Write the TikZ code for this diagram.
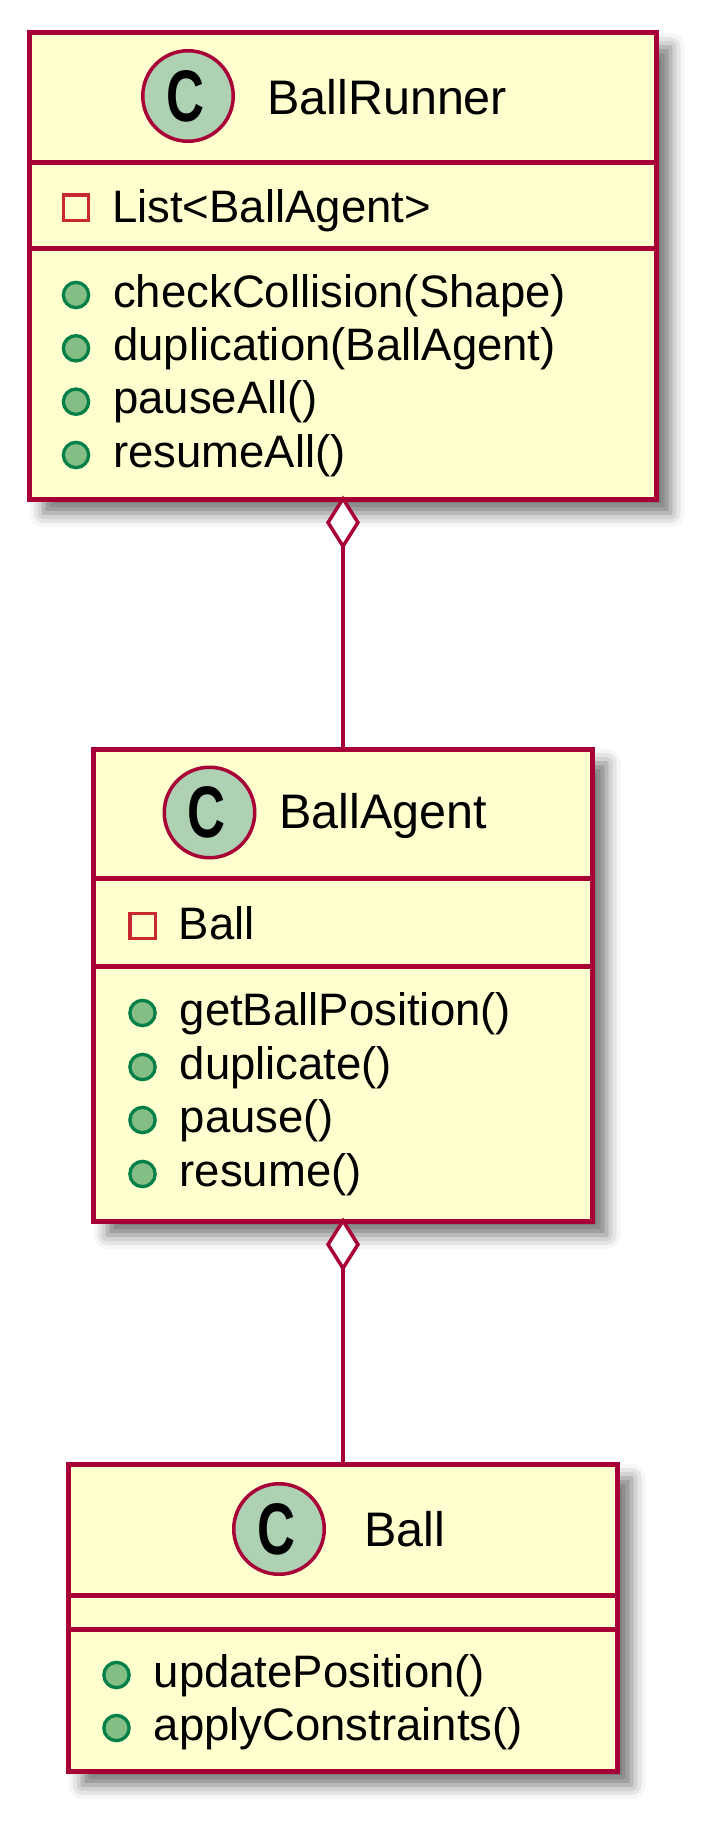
\documentclass[tikz,border=0pt]{standalone}
\usepackage{fontspec}
\setmainfont{Liberation Sans}
\usetikzlibrary{arrows.meta,shadows.blur}
\definecolor{umlborder}{HTML}{A80036}
\definecolor{umlfill}{HTML}{FEFECE}
\definecolor{umlcircle}{HTML}{ADD1B2}
\definecolor{privred}{HTML}{C82930}
\definecolor{pubfill}{HTML}{84BE84}
\definecolor{pubborder}{HTML}{038048}
\tikzset{
  classbox/.style={rectangle, draw=umlborder, line width=5pt, fill=umlfill, inner sep=0pt,
    blur shadow={shadow xshift=14pt, shadow yshift=-14pt, shadow blur radius=14pt, shadow opacity=55}},
  sepline/.style={draw=umlborder, line width=5pt},
  classicon/.style={circle, draw=umlborder, line width=3.5pt, fill=umlcircle, minimum size=90.5pt, inner sep=0pt},
  classletter/.style={inner sep=0pt, font=\fontsize{73}{80}\selectfont\bfseries},
  classname/.style={anchor=base west, inner sep=0pt, font=\fontsize{48.5}{58}\selectfont},
  member/.style={anchor=base west, inner sep=0pt, font=\fontsize{45.5}{54}\selectfont},
  privicon/.style={rectangle, draw=privred, line width=3.3pt, minimum size=25.3pt, inner sep=0pt},
  pubicon/.style={circle, draw=pubborder, fill=pubfill, line width=3.3pt, minimum size=25.3pt, inner sep=0pt},
  aggr/.style={draw=umlborder, line width=3.5pt, shorten <=-6pt,
    {Diamond[fill=white, length=54pt, width=34pt]}-},
}
\begin{document}
\begin{tikzpicture}[x=1pt, y=-1pt]
  \useasboundingbox (0,0) rectangle (713,1825);

  \node[classbox, minimum width=627pt, minimum height=466pt] (runner) at (343,266) {};
  \draw[sepline] (runner.west |- 0,162) -- (runner.east |- 0,162);
  \draw[sepline] (runner.west |- 0,248) -- (runner.east |- 0,248);
  \node[classicon] (runnericon) at (188,96) {};
  \node[classletter] (runnerc) at (185,96) {\scalebox{0.72}[1]{C}};
  \node[classname] (runnername) at (267,114) {BallRunner};
  \node[privicon] (runnerlisticon) at (76,207.5) {};
  \node[member] (runnerlist) at (112,222) {List<BallAgent>};
  \node[pubicon] (runnercheckicon) at (76,295) {};
  \node[member] (runnercheck) at (113,307) {checkCollision(Shape)};
  \node[pubicon] (runnerdupicon) at (76,348.3) {};
  \node[member] (runnerdup) at (113,360.3) {duplication(BallAgent)};
  \node[pubicon] (runnerpauseicon) at (76,401.7) {};
  \node[member] (runnerpause) at (113,413.7) {pauseAll()};
  \node[pubicon] (runnerresumeicon) at (76,455) {};
  \node[member] (runnerresume) at (113,467) {resumeAll()};

  \node[classbox, minimum width=499pt, minimum height=472pt] (agent) at (343,985) {};
  \draw[sepline] (agent.west |- 0,878) -- (agent.east |- 0,878);
  \draw[sepline] (agent.west |- 0,966) -- (agent.east |- 0,966);
  \node[classicon] (agenticon) at (209.5,812.5) {};
  \node[classletter] (agentc) at (206.5,812.5) {\scalebox{0.72}[1]{C}};
  \node[classname] (agentname) at (279,828) {BallAgent};
  \node[privicon] (agentballicon) at (142.5,926) {};
  \node[member] (agentball) at (178.5,939) {Ball};
  \node[pubicon] (agentgeticon) at (142.5,1013) {};
  \node[member] (agentget) at (179.5,1025) {getBallPosition()};
  \node[pubicon] (agentdupicon) at (142.5,1067) {};
  \node[member] (agentdup) at (179.5,1079) {duplicate()};
  \node[pubicon] (agentpauseicon) at (142.5,1120) {};
  \node[member] (agentpause) at (179.5,1132) {pause()};
  \node[pubicon] (agentresumeicon) at (142.5,1174) {};
  \node[member] (agentresume) at (179.5,1186) {resume()};

  \node[classbox, minimum width=549pt, minimum height=307pt] (ball) at (343,1617.5) {};
  \draw[sepline] (ball.west |- 0,1595) -- (ball.east |- 0,1595);
  \draw[sepline] (ball.west |- 0,1629) -- (ball.east |- 0,1629);
  \node[classicon] (ballicon) at (279,1529) {};
  \node[classletter] (ballc) at (276,1529) {\scalebox{0.72}[1]{C}};
  \node[classname] (ballname) at (364,1546) {Ball};
  \node[pubicon] (ballupdateicon) at (116.5,1675) {};
  \node[member] (ballupdate) at (153.5,1687) {updatePosition()};
  \node[pubicon] (ballapplyicon) at (116.5,1728) {};
  \node[member] (ballapply) at (153.5,1740) {applyConstraints()};

  \draw[aggr] (runner.south) -- (agent.north);
  \draw[aggr] (agent.south) -- (ball.north);
\end{tikzpicture}
\end{document}
